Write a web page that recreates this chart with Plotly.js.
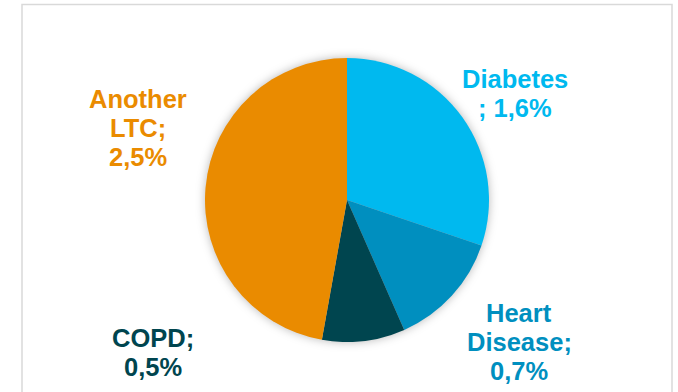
<!DOCTYPE html>
<html>
<head>
<meta charset="utf-8">
<script src="https://cdn.plot.ly/plotly-3.0.1.min.js"></script>
<style>
  html, body { margin: 0; padding: 0; background: #ffffff; }
  #chart { width: 678px; height: 392px; }
  /* soft halo around the pie */
  #chart .pielayer .trace { filter: drop-shadow(0px 0px 5px rgba(0,0,0,0.28)); }
</style>
</head>
<body>
<div id="chart"></div>
<script>
// Share of patients by long-term condition (%)
const categories = ['Diabetes', 'Heart Disease', 'COPD', 'Another LTC'];
const values = [1.6, 0.7, 0.5, 2.5];
const colors = ['#00B9EF', '#008FBF', '#00454F', '#EA8B00'];
// how each label's name is broken over lines; the value goes on the last line
const nameLines = [['Diabetes', '; '], ['Heart', 'Disease;', ''], ['COPD;', ''], ['Another', 'LTC;', '']];

const W = 678, H = 392;
const cx = 347, cy = 200, r = 142;

// label placement: centre x and first baseline (px), line step (px)
const labelPos = [
  { x: 515, y: 88 },
  { x: 519, y: 322 },
  { x: 153, y: 347 },
  { x: 138, y: 108 }
];
const fontSize = 25.5;
const lineStep = 29;

function fmt(v) { return v.toFixed(1).replace('.', ',') + '%'; }

const annotations = [];
categories.forEach((c, i) => {
  const lines = nameLines[i].slice();
  lines[lines.length - 1] = lines[lines.length - 1] + fmt(values[i]);
  lines.forEach((t, k) => {
    const base = labelPos[i].y + k * lineStep;
    annotations.push({
      xref: 'paper', yref: 'paper',
      x: labelPos[i].x / W,
      y: 1 - (base - fontSize * 0.35) / H,
      xanchor: 'center', yanchor: 'middle',
      text: t, showarrow: false,
      font: { family: 'Liberation Sans, Arial, sans-serif', size: fontSize, color: colors[i], weight: 'bold' }
    });
  });
});

const trace = {
  type: 'pie',
  labels: categories,
  values: values,
  sort: false,
  direction: 'clockwise',
  rotation: 0,
  textinfo: 'none',
  hoverinfo: 'label+value',
  marker: { colors: colors, line: { width: 0 } },
  domain: { x: [(cx - r) / W, (cx + r) / W], y: [(H - cy - r) / H, (H - cy + r) / H] },
  showlegend: false
};

const layout = {
  width: W, height: H,
  margin: { l: 0, r: 0, t: 0, b: 0 },
  paper_bgcolor: '#ffffff',
  showlegend: false,
  annotations: annotations,
  shapes: [{
    type: 'rect', xref: 'paper', yref: 'paper',
    x0: 22 / W, x1: 672 / W, y0: -0.2, y1: 1 - 4.5 / H,
    line: { color: '#D9D9D9', width: 1.5 }, fillcolor: 'rgba(0,0,0,0)', layer: 'below'
  }]
};

Plotly.newPlot('chart', [trace], layout, { staticPlot: true, displayModeBar: false });
</script>
</body>
</html>
